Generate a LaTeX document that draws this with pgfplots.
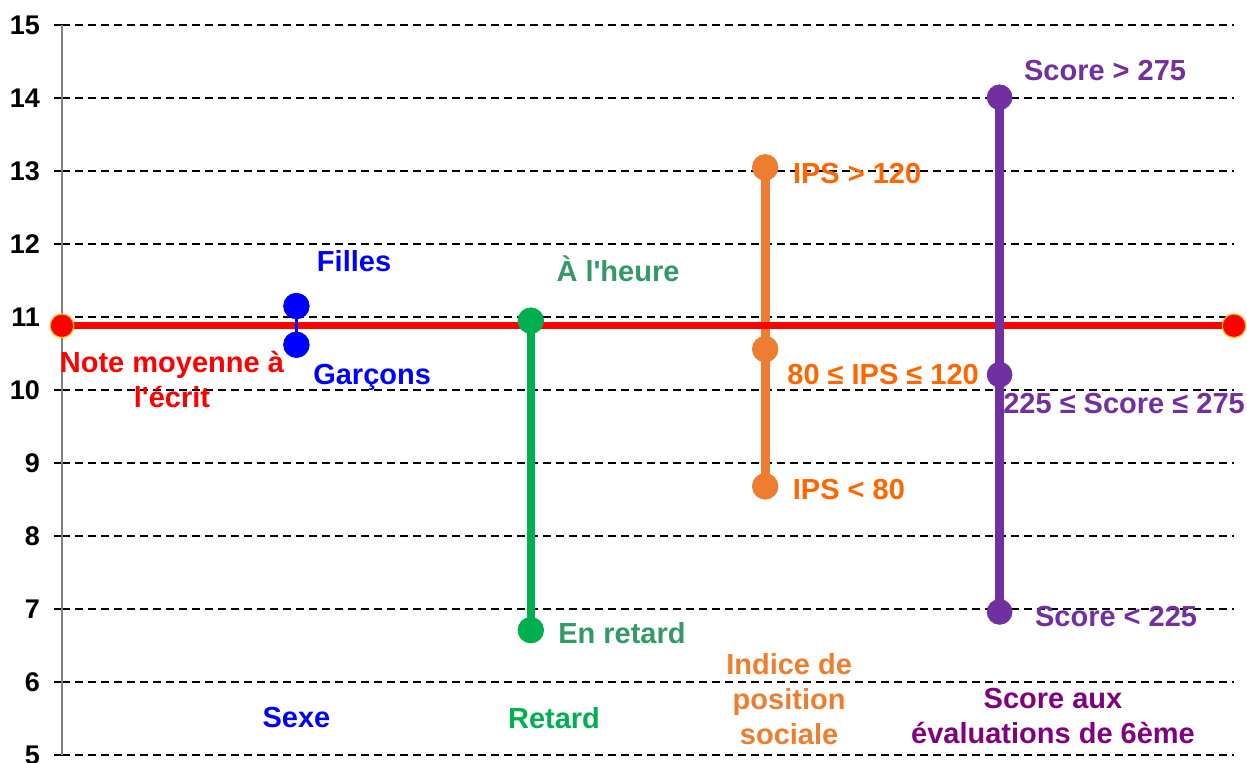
\documentclass[border=0pt]{standalone}
\usepackage{fontspec}
\setmainfont{Liberation Sans}
\usepackage{pgfplots}
\pgfplotsset{compat=1.18}
\definecolor{cred}{HTML}{FF0000}
\definecolor{credborder}{HTML}{FFC000}
\definecolor{cblue}{HTML}{0000FF}
\definecolor{cgreen}{HTML}{00B050}
\definecolor{cgreentxt}{HTML}{339966}
\definecolor{corange}{HTML}{ED7D31}
\definecolor{corangetxt}{HTML}{FF6600}
\definecolor{cpurple}{HTML}{7030A0}
\definecolor{cpurplecat}{HTML}{800080}
\tikzset{lbl/.style={font=\bfseries\fontsize{14.5}{17.5}\selectfont, inner sep=0pt}}
\begin{document}
\begin{tikzpicture}
\useasboundingbox (-31pt,-3.5pt) rectangle (592.5pt,377.5pt);
\begin{axis}[
  at={(0,0)}, anchor=south west,
  scale only axis, width=586pt, height=365pt,
  xmin=0, xmax=5, ymin=5, ymax=15,
  ytick={5,6,...,15}, xtick=\empty,
  axis x line=none, axis y line*=left,
  y axis line style={draw=gray, line width=1pt, -},
  tick align=outside, major tick length=4pt,
  tick style={black, line width=0.8pt},
  ymajorgrids,
  major grid style={black, line width=1pt, dash pattern=on 4pt off 2.5pt},
  /pgf/number format/assume math mode=true,
  yticklabel style={font=\bfseries\fontsize{13.5}{15}\selectfont, black, xshift=-3.5pt},
  clip=false,
]
% Retard
\addplot[cgreen, line width=4pt, mark=*, mark size=6.4pt, mark options={fill=cgreen, draw=cgreen, line width=0.4pt}]
  coordinates {(2,10.95) (2,6.71)};
% IPS
\addplot[corange, line width=4.5pt, mark=*, mark size=6.4pt, mark options={fill=corange, draw=corange, line width=0.4pt}]
  coordinates {(3,13.05) (3,10.56) (3,8.68)};
% Moyenne
\addplot[cred, line width=3.5pt, mark=*, mark size=5.9pt, mark options={fill=cred, draw=credborder, line width=0.6pt}]
  coordinates {(0,10.88) (5,10.88)};
% Sexe
\addplot[cblue, line width=1.5pt, mark=*, mark size=6.4pt, mark options={fill=cblue, draw=cblue, line width=0.4pt}]
  coordinates {(1,11.15) (1,10.62)};
% Score
\addplot[cpurple, line width=4.5pt, mark=*, mark size=6.2pt, mark options={fill=cpurple, draw=cpurple, line width=0.4pt}]
  coordinates {(4,14.01) (4,10.21) (4,6.96)};

% point labels
\node[lbl, cred, align=center] at (axis cs:0.469,10.14) {Note moyenne à\\l\textquotesingle écrit};
\node[lbl, cblue] at (axis cs:1.246,11.77) {Filles};
\node[lbl, cblue] at (axis cs:1.323,10.17) {Garçons};
\node[lbl, cgreentxt] at (axis cs:2.372,11.66) {À l\textquotesingle heure};
\node[lbl, cgreentxt] at (axis cs:2.389,6.67) {En retard};
\node[lbl, corangetxt] at (axis cs:3.392,12.97) {IPS > 120};
\node[lbl, corangetxt] at (axis cs:3.503,10.21) {80 ≤ IPS ≤ 120};
\node[lbl, corangetxt] at (axis cs:3.357,8.64) {IPS < 80};
\node[lbl, cpurple] at (axis cs:4.450,14.37) {Score > 275};
\node[lbl, cpurple] at (axis cs:4.531,9.81) {225 ≤ Score ≤ 275};
\node[lbl, cpurple] at (axis cs:4.497,6.90) {Score < 225};
% category labels
\node[lbl, cblue] at (axis cs:1.0,5.52) {Sexe};
\node[lbl, cgreen] at (axis cs:2.099,5.51) {Retard};
\node[lbl, corange, align=center] at (axis cs:3.102,5.77) {Indice de\\position\\sociale};
\node[lbl, cpurplecat, align=center] at (axis cs:4.228,5.54) {Score aux\\évaluations de 6ème};
\end{axis}
\end{tikzpicture}
\end{document}
